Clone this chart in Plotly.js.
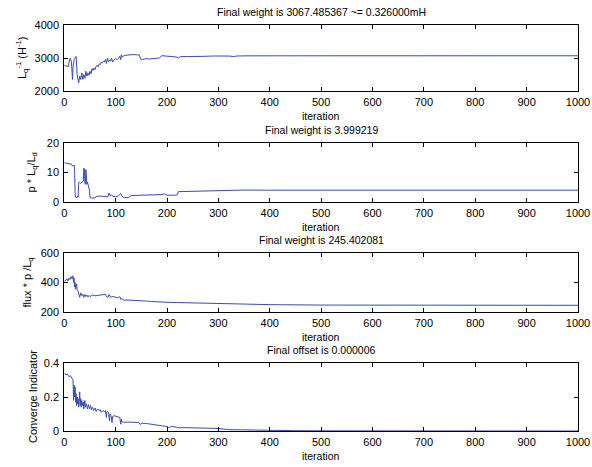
<!DOCTYPE html>
<html><head><meta charset="utf-8">
<script src="https://cdn.plot.ly/plotly-3.0.1.min.js"></script>
<style>html,body{margin:0;padding:0;background:#fff}#chart{width:592px;height:467px}</style>
</head><body><div id="chart"></div>
<script>
// [iteration, value] pairs
const lqInvPts = [[0,2800],[2,2750],[5,2760],[8,2740],[10,2950],[12,3000],[14,2850],[16,2350],[17,2700],[19,2950],[21,3000],[23,3050],[25,2500],[27,2300],[28,2250],[30,2450],[32,2350],[34,2550],[36,2350],[38,2500],[40,2380],[42,2600],[44,2450],[46,2550],[48,2480],[50,2600],[52,2520],[54,2680],[56,2620],[58,2700],[60,2650],[62,2750],[64,2780],[66,2730],[68,2820],[70,2800],[72,2870],[74,2850],[76,2900],[78,2880],[80,2950],[82,2830],[84,3000],[86,2880],[88,2940],[90,2900],[92,3000],[94,2880],[96,2940],[98,2960],[100,2980],[103,2950],[106,3000],[108,3050],[110,2950],[111,3100],[113,3020],[115,3060],[118,3080],[122,3090],[130,3100],[140,3100],[146,3090],[148,3000],[150,2950],[153,2960],[158,2980],[165,2970],[175,2990],[185,3000],[190,3070],[200,3060],[210,3050],[218,3030],[222,3000],[226,3040],[240,3045],[260,3050],[265,3030],[270,3050],[290,3060],[300,3065],[320,3060],[330,3045],[335,3060],[350,3065],[380,3068],[400,3068],[500,3067],[700,3067],[1000,3067.5]];
const pLqLdPts = [[0,13.3],[5,13.2],[10,13],[14,12.8],[15,12.3],[18,12.2],[19,12.5],[20,12],[21,3],[22,1.6],[25,1.5],[26,2],[27,1.7],[28,6.5],[30,6.6],[32,6.3],[35,6.8],[37,7],[38,11.5],[39,11.2],[40,7],[41,6],[42,11],[43,8],[44,6],[45,6.8],[47,5],[49,4],[50,1.6],[52,1.3],[60,1.4],[62,1.9],[70,2],[80,2],[85,1.8],[87,3],[89,2.2],[92,2.3],[95,1.9],[100,1.8],[105,2],[108,2.6],[110,2.8],[112,2.2],[115,1.5],[125,1.5],[130,2.2],[150,2.3],[170,2.4],[190,2.5],[195,2.8],[200,2.3],[215,2.3],[220,2.4],[222,3.5],[250,3.6],[280,3.7],[300,4.0],[310,3.8],[330,3.9],[350,4.05],[400,4.0],[600,4.0],[1000,4.0]];
const fluxPts = [[0,410],[3,415],[5,425],[7,410],[9,430],[11,420],[13,440],[15,425],[17,445],[18,400],[19,430],[20,370],[21,400],[22,355],[24,390],[25,350],[27,340],[28,330],[30,300],[32,330],[34,310],[36,320],[38,300],[40,318],[42,305],[44,315],[46,302],[48,312],[50,305],[55,315],[60,310],[65,312],[70,315],[75,318],[80,320],[82,305],[85,300],[87,318],[90,300],[95,305],[100,302],[105,295],[108,305],[110,285],[112,292],[115,281],[130,280],[145,279],[150,276],[160,274],[170,271],[180,268],[200,266],[220,264],[250,262],[300,259],[310,256],[320,253],[340,252],[400,250],[500,247],[700,246],[1000,245.4]];
const convPts = [[0,0.34],[3,0.33],[6,0.335],[9,0.32],[12,0.325],[15,0.31],[17,0.3],[18,0.18],[19,0.27],[20,0.2],[21,0.26],[22,0.17],[23,0.22],[24,0.15],[25,0.2],[26,0.16],[27,0.19],[28,0.14],[29,0.17],[30,0.23],[31,0.15],[32,0.19],[33,0.14],[34,0.18],[35,0.15],[37,0.17],[38,0.13],[40,0.18],[41,0.14],[43,0.16],[45,0.13],[47,0.155],[49,0.13],[51,0.15],[53,0.125],[55,0.14],[57,0.12],[60,0.135],[62,0.115],[65,0.13],[68,0.12],[70,0.125],[72,0.11],[75,0.12],[78,0.115],[80,0.12],[82,0.08],[83,0.115],[86,0.11],[88,0.06],[89,0.1],[91,0.09],[93,0.05],[94,0.085],[97,0.09],[100,0.088],[105,0.086],[108,0.08],[110,0.04],[111,0.07],[112,0.055],[115,0.052],[130,0.052],[145,0.05],[148,0.038],[150,0.046],[160,0.044],[170,0.04],[180,0.035],[195,0.03],[200,0.026],[205,0.02],[208,0.027],[220,0.022],[225,0.018],[230,0.02],[260,0.018],[300,0.015],[320,0.008],[350,0.006],[400,0.004],[450,0.002],[500,0.001],[600,0.0005],[1000,0.000006]];

const titles = ['Final weight is 3067.485367 ~= 0.326000mH','Final weight is 3.999219','Final weight is 245.402081','Final offset is 0.000006'];
const yTitles = ['L<sub>q</sub><sup>-1</sup> (H<sup>-1</sup>)','p * L<sub>q</sub>/L<sub>d</sub>','flux * p /L<sub>q</sub>','Converge Indicator'];
const yRanges = [[2000,4000],[0,20],[200,600],[0,0.4]];
const yTicks = [[2000,3000,4000],[0,10,20],[200,400,600],[0,0.2,0.4]];
const xTicks = [0,100,200,300,400,500,600,700,800,900,1000];
const xLabel = 'iteration';

const W=592,H=467;
const px=v=>v/W, py=v=>1-v/H;
const plotTop=[25,143,253,363], plotBot=[91,202,312,431];
const yTitleX=[22,31,27,33];
const L=64.3,R=578;
const series=[lqInvPts,pLqLdPts,fluxPts,convPts];
const color='#3a4cb0';
const fam='"Liberation Sans", Arial, sans-serif';
const tickFont={family:fam,size:11,color:'#000'};
const txtFont={family:fam,size:10.5,color:'#000'};
const yFont={family:fam,size:11,color:'#000'};

const data=[],layout={width:W,height:H,margin:{l:0,r:0,t:0,b:0},showlegend:false,paper_bgcolor:'#fff',plot_bgcolor:'#fff',font:txtFont,annotations:[]};
series.forEach((pts,i)=>{
  const n=i===0?'':String(i+1);
  data.push({x:pts.map(p=>p[0]),y:pts.map(p=>p[1]),type:'scatter',mode:'lines',line:{color:color,width:1},xaxis:'x'+n,yaxis:'y'+n,hoverinfo:'skip'});
  const ax={showline:true,linecolor:'#000',linewidth:1,mirror:'ticks',ticks:'inside',ticklen:4,tickcolor:'#000',showgrid:false,zeroline:false,tickfont:tickFont};
  layout['xaxis'+n]=Object.assign({},ax,{domain:[px(L),px(R)],range:[0,1000],tickvals:xTicks,ticktext:xTicks.map(String),anchor:'y'+n,ticklabelstandoff:1});
  layout['yaxis'+n]=Object.assign({},ax,{domain:[py(plotBot[i]),py(plotTop[i])],range:yRanges[i],tickvals:yTicks[i],ticktext:yTicks[i].map(String),anchor:'x'+n,ticklabelstandoff:2});
  layout.annotations.push({xref:'paper',yref:'paper',x:px((L+R)/2),y:py(plotTop[i]-13),text:titles[i],showarrow:false,font:txtFont,xanchor:'center',yanchor:'middle'});
  layout.annotations.push({xref:'paper',yref:'paper',x:px((L+R)/2),y:py(plotBot[i]+25),text:xLabel,showarrow:false,font:txtFont,xanchor:'center',yanchor:'middle'});
  layout.annotations.push({xref:'paper',yref:'paper',x:px(yTitleX[i]),y:py((plotTop[i]+plotBot[i])/2),text:yTitles[i],textangle:-90,showarrow:false,font:yFont,xanchor:'center',yanchor:'middle'});
});
Plotly.newPlot('chart',data,layout,{staticPlot:true});
</script></body></html>
